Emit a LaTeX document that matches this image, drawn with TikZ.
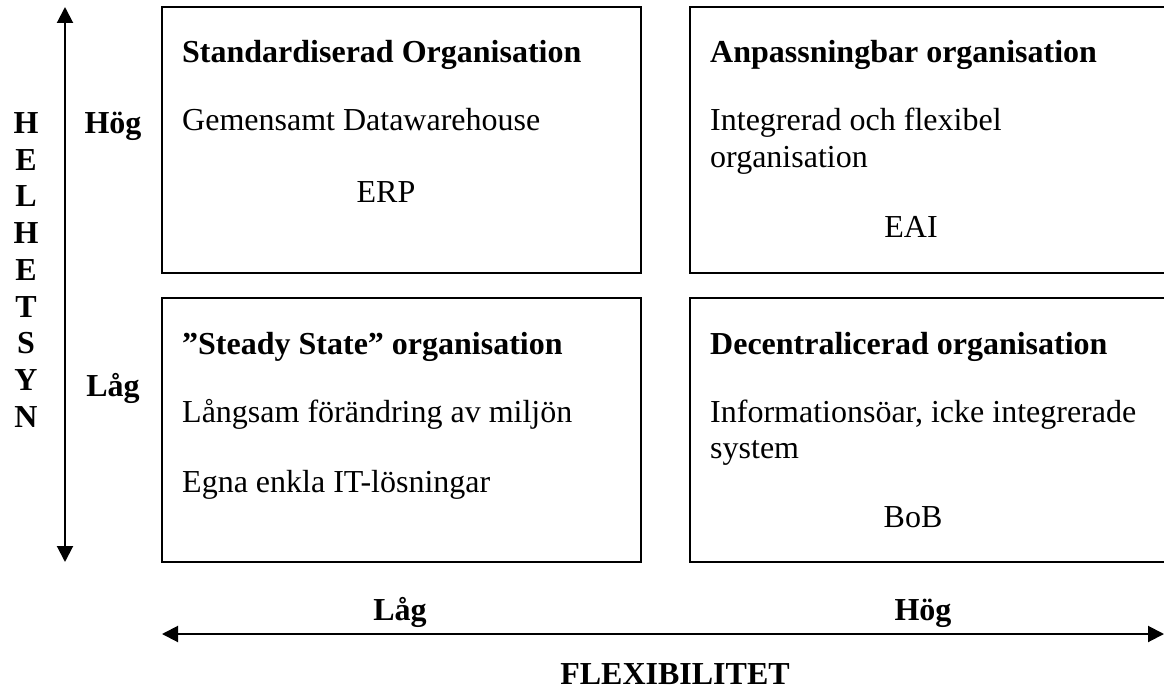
\documentclass[tikz,border=0pt]{standalone}
\usepackage{fontspec}
\setmainfont{Liberation Serif}
\usetikzlibrary{arrows.meta}
\begin{document}
\begin{tikzpicture}[x=1pt,y=-1pt,
  box/.style={draw,line width=2pt,inner sep=0pt},
  txt/.style={anchor=base west,inner sep=0pt,font=\fontsize{32}{36.8}\selectfont},
  btxt/.style={anchor=base west,inner sep=0pt,font=\fontsize{32}{36.8}\selectfont\bfseries},
  ctxt/.style={anchor=base,inner sep=0pt,font=\fontsize{32}{36.8}\selectfont},
  cbtxt/.style={anchor=base,inner sep=0pt,font=\fontsize{32}{36.8}\selectfont\bfseries},
  axis/.style={line width=2pt,{Triangle[width=16pt,length=16pt]}-{Triangle[width=16pt,length=16pt]}}]
\useasboundingbox (0,0) rectangle (1164,690);
\begin{scope}
\clip (0,0) rectangle (1164,690);
% boxes
\node[box,minimum width=479pt,minimum height=266pt] (tl) at (401.5,140) {};
\node[box,minimum width=479pt,minimum height=264pt] (bl) at (401.5,430) {};
\node[box,minimum width=482pt,minimum height=266pt] (tr) at (931,140) {};
\node[box,minimum width=482pt,minimum height=264pt] (br) at (931,430) {};
% axes
\coordinate (vt) at (65,7);
\coordinate (vb) at (65,562);
\draw[axis] (vt) -- (vb);
\coordinate (hl) at (162,634);
\coordinate (hr) at (1164,634);
\draw[axis] (hl) -- (hr);
\end{scope}
% vertical label
\foreach \l [count=\i from 0] in {H,E,L,H,E,T,S,Y,N}
  \node[inner sep=0pt,font=\fontsize{32}{36.8}\selectfont\bfseries] (v\i) at (26,123+\i*36.75) {\l};
\node[cbtxt] (yhi) at (113,133) {Hög};
\node[cbtxt] (ylo) at (113,396) {Låg};
% top left
\node[btxt] (tlt) at (182,63) {Standardiserad Organisation};
\node[txt] (tl1) at (182,131) {Gemensamt Datawarehouse};
\node[ctxt] (tl2) at (386,202) {ERP};
% top right
\node[btxt] (trt) at (710,63) {Anpassningbar organisation};
\node[txt] (tr1) at (710,131) {Integrerad och flexibel};
\node[txt] (tr2) at (710,167.8) {organisation};
\node[ctxt] (tr3) at (911,237) {EAI};
% bottom left
\node[btxt] (blt) at (182,354) {”Steady State” organisation};
\node[txt] (bl1) at (182,422) {Långsam förändring av miljön};
\node[txt] (bl2) at (182,492) {Egna enkla IT-lösningar};
% bottom right
\node[btxt] (brt) at (710,354) {Decentralicerad organisation};
\node[txt] (br1) at (710,422) {Informationsöar, icke integrerade};
\node[txt] (br2) at (710,458.8) {system};
\node[ctxt] (br3) at (913,527) {BoB};
% x axis labels
\node[cbtxt] (xlo) at (400,620) {Låg};
\node[cbtxt] (xhi) at (923,620) {Hög};
\node[cbtxt] (xt) at (675,684) {FLEXIBILITET};
\end{tikzpicture}
\end{document}
